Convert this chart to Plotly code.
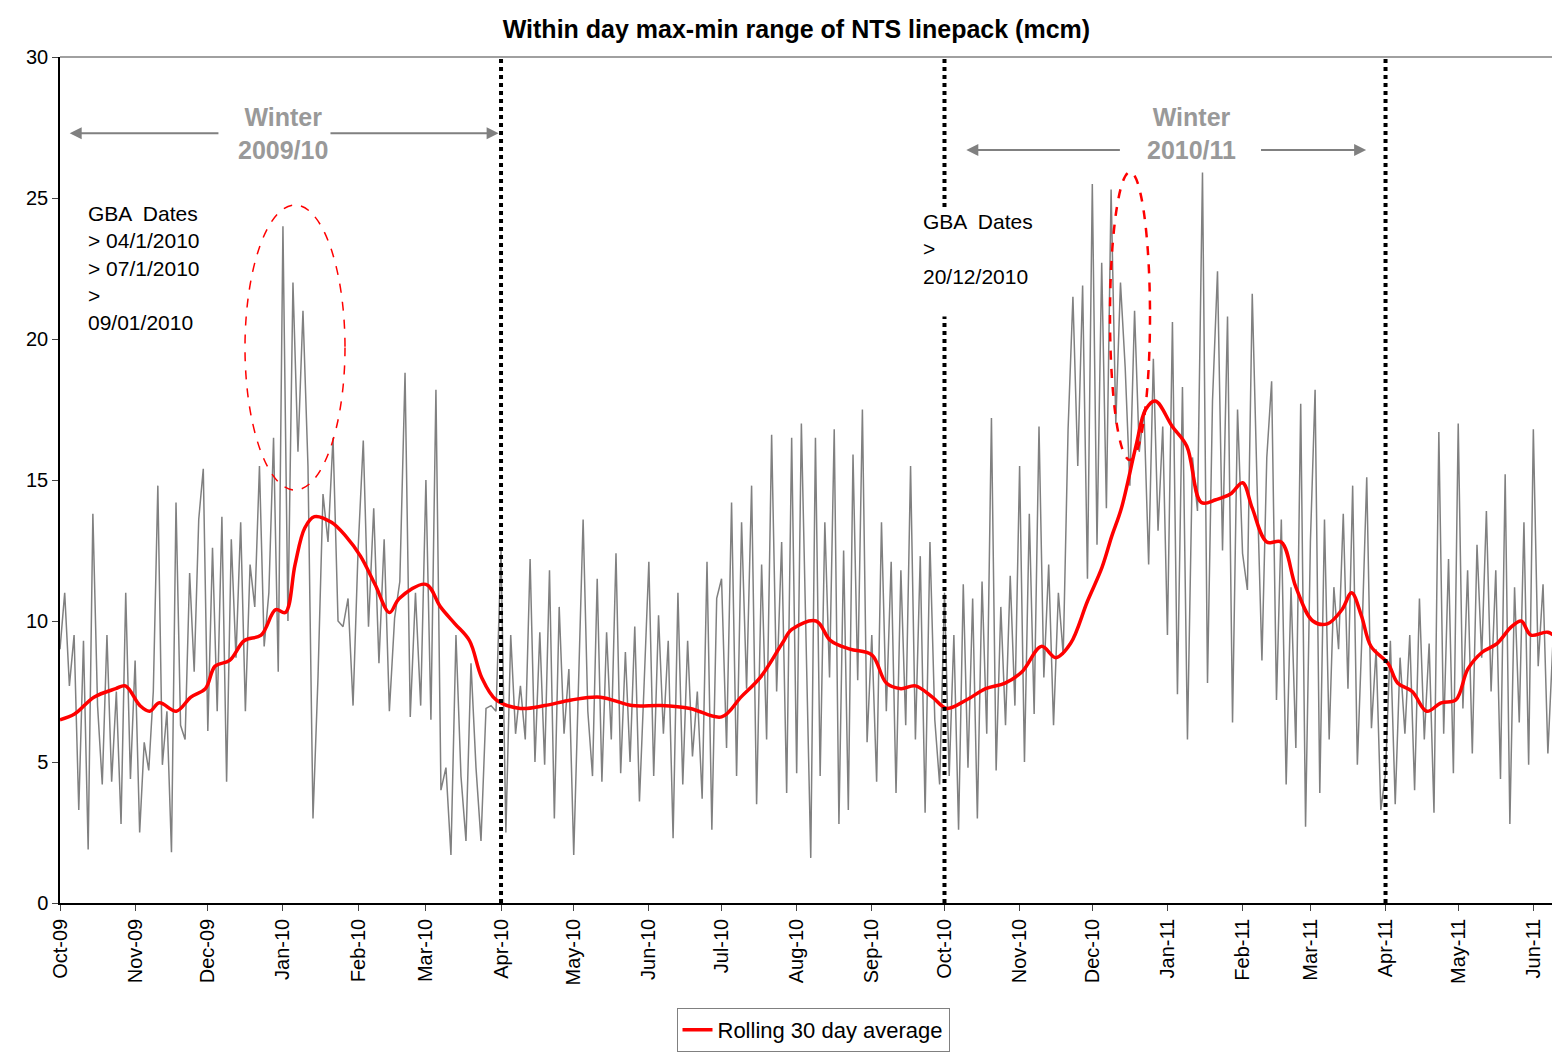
import plotly.graph_objects as go
import pandas as pd

# Daily max-min range (sampled, hand-read), grouped by month
gray_months = ["2009-10","2009-11","2009-12","2010-01","2010-02","2010-03","2010-04","2010-05","2010-06",
               "2010-07","2010-08","2010-09","2010-10","2010-11","2010-12","2011-01","2011-02","2011-03",
               "2011-04","2011-05","2011-06"]
gray_values = [
 [9,11,7.7,9.5,3.3,9.3,1.9,13.8,7,4.2,9.5,4.3,7.5,2.8,11,4.4],
 [8.6,2.5,5.7,4.7,7.5,14.8,4.9,6.8,1.8,14.2,6.3,5.8,11.7,8.2,13.6,15.4],
 [6.1,12.6,6.8,13.7,4.3,12.9,8.7,13.5,6.8,12,10.5,15.5,9.1,11,16.5,8.2],
 [24,10,22,16,21,15.5,3,8,14.5,12.8,16.5,10,9.8,10.8,7],
 [12.5,16.4,9.8,14,8.5,12.9,6.8,10.1,11.4,18.8,6.6,11,7],
 [15,6.5,18.2,4,4.8,1.7,9.5,4.5,2.2,8.5,4.8,2.2,6.9,7,6.8],
 [12.5,2.5,9.5,6,7.7,5.8,12.2,5,9.6,4.9,11.8,3,10.5,6,8.3],
 [1.7,7.8,13.6,6.8,4.5,11.5,4.3,9.6,5.8,12.4,4.6,8.9,5,9.8,3.6,7.8],
 [12.1,4.5,10.2,6,9.3,2.3,11,4.2,9.3,5.2,7.5,3.7,12.1,2.6,10.8],
 [11.5,5.5,14.2,4.5,13.5,7.6,14.8,3.5,12,5.8,16.6,7.5,12.8,3.9,16.5],
 [4.6,17,9.5,1.6,16.5,4.5,13.5,8,16.8,2.8,12.5,3.3,15.9,7.9,17.5,5.7],
 [9.5,4.3,13.5,6.8,12.1,3.9,11.8,6.3,15.5,5.8,12.3,3.2,12.8,6.5,4.2],
 [11,4.5,9.5,2.6,11.3,4.8,10.8,3,11.4,6,17.2,4.7,10.5,6.3,11.6,7],
 [15.5,5,13.8,6.7,16.9,8,12,6.3,11,8.8,16.8,21.5,15.5,21.9,11.5],
 [25.5,12.7,22.7,14,25.3,17,22,19,14.8,21,16,17.5,12,19.3,13.2,16.9],
 [9.5,20.6,7.4,18.3,5.8,15.8,13.9,25.9,7.8,17.8,22.4,12.5,20.8,6.4,17.5],
 [12.4,11.1,21.6,14.8,8.6,15.8,18.5,7.2,13.6,4.2,11.2,5.5,17.7,2.7],
 [12.8,18.2,3.9,13.6,5.8,11.2,9,13.8,7.6,14.8,4.9,9.6,15.1,6.2,9,3.3],
 [4.6,9.3,3.5,8.7,6,9.5,4,10.8,5.8,9.2,3.2,16.7,6,12.2,4.6],
 [17,6.9,11.8,5.3,12.7,8.7,13.9,7.5,11.8,4.4,15.2,2.8,11.2,6.4,13.5,4.9],
 [16.8,8.4,11.3,5.3,9.1,6.5],
]

# Rolling 30 day average: day offset from 2009-10-01 and value
avg_days = [0,6,14,23,27,33,37,41,48,54,60,64,70,76,83,89,93,97,101,105,112,118,124,130,136,140,151,157,163,169,
            174,180,190,200,211,223,236,248,260,273,281,289,298,302,312,318,326,335,341,347,353,360,366,374,382,390,
            397,405,411,417,424,430,434,438,444,448,452,459,465,471,477,483,488,492,498,504,510,517,523,529,533,537,
            541,548,552,558,564,570,576,581,587,593,599,603,607,614,620]
avg_values = [6.5,6.7,7.3,7.6,7.7,7.0,6.8,7.1,6.8,7.3,7.6,8.4,8.6,9.3,9.5,10.4,10.3,12,13.3,13.7,13.5,13,12.3,11.3,
              10.3,10.8,11.3,10.5,9.9,9.3,8,7.2,6.9,7.0,7.2,7.3,7.0,7.0,6.9,6.6,7.3,8,9.2,9.7,10.0,9.3,9.0,8.8,7.8,
              7.6,7.7,7.3,6.9,7.2,7.6,7.8,8.2,9.1,8.7,9.2,10.7,11.9,13,14,16.2,17.5,17.8,16.9,16.2,14.2,14.3,14.5,
              14.9,14,12.8,12.8,11.2,10,9.9,10.4,11,10.2,9.1,8.5,7.8,7.5,6.8,7.1,7.2,8.3,8.9,9.2,9.8,10,9.5,9.6,9.2]

winter_lines = ["2010-04-01", "2010-10-01", "2011-04-01"]

gx, gy = [], []
for m, vals in zip(gray_months, gray_values):
    start = pd.Timestamp(m + "-01")
    ndays = start.days_in_month if m != "2011-06" else 12
    for i, v in enumerate(vals):
        gx.append(start + pd.Timedelta(days=float(i * ndays / len(vals))))
        gy.append(v)

base = pd.Timestamp("2009-10-01")
ax_dates = [base + pd.Timedelta(days=d) for d in avg_days]

fig = go.Figure()
fig.add_trace(go.Scatter(x=gx, y=gy, mode="lines", line=dict(color="#808080", width=1.5), showlegend=False))
fig.add_trace(go.Scatter(x=ax_dates, y=avg_values, mode="lines", line=dict(color="#ff0000", width=3.5, shape="spline"),
                         name="Rolling 30 day average"))

for d in winter_lines:
    fig.add_shape(type="line", x0=d, x1=d, y0=0, y1=30, xref="x", yref="y",
                  line=dict(color="black", width=4, dash="dot"))
fig.add_shape(type="line", x0=0, x1=1, y0=1, y1=1, xref="paper", yref="paper", line=dict(color="#808080", width=1.5))

def px2paper(x, y):
    return (x - 60) / 1500, (903 - y) / 846

x0, y0 = px2paper(245, 490); x1, y1 = px2paper(345, 205)
fig.add_shape(type="circle", xref="paper", yref="paper", x0=x0, y0=y0, x1=x1, y1=y1,
              line=dict(color="red", width=1.5, dash="dash"))
x0, y0 = px2paper(1110, 460); x1, y1 = px2paper(1150, 172)
fig.add_shape(type="circle", xref="paper", yref="paper", x0=x0, y0=y0, x1=x1, y1=y1,
              line=dict(color="red", width=2.5, dash="dash"))

gfont = dict(family="Liberation Sans, Arial", size=25, color="#999999")
def arrow(xh, xt, y):
    fig.add_annotation(x=xh, y=y, ax=xt, ay=y, xref="x", yref="y", axref="x", ayref="y", text="",
                       showarrow=True, arrowhead=2, arrowsize=1.2, arrowwidth=2, arrowcolor="#808080")

fig.add_annotation(x="2010-01-01", y=27.3, text="<b>Winter<br>2009/10</b>", showarrow=False, font=gfont)
arrow("2009-10-05", "2009-12-06", 27.3)
arrow("2010-03-31", "2010-01-20", 27.3)
fig.add_annotation(x="2011-01-11", y=27.3, text="<b>Winter<br>2010/11</b>", showarrow=False, font=gfont)
arrow("2010-10-10", "2010-12-13", 26.7)
arrow("2011-03-24", "2011-02-08", 26.7)

tfont = dict(family="Liberation Sans, Arial", size=21, color="black")
x, y = px2paper(86, 200)
fig.add_annotation(xref="paper", yref="paper", x=x, y=y, xanchor="left", yanchor="top", align="left",
                   text="GBA  Dates<br>> 04/1/2010<br>> 07/1/2010<br>><br>09/01/2010", showarrow=False,
                   font=tfont, bgcolor="white")
x, y = px2paper(921, 208)
fig.add_annotation(xref="paper", yref="paper", x=x, y=y, xanchor="left", yanchor="top", align="left",
                   text="GBA  Dates<br>><br>20/12/2010<br> ", showarrow=False, font=tfont, bgcolor="white")

fig.update_layout(
    width=1552, height=1045, plot_bgcolor="white", paper_bgcolor="white",
    margin=dict(l=52, r=0, t=49, b=150, autoexpand=False),
    font=dict(family="Liberation Sans, Arial", size=20, color="black"),
    title=dict(text="<b>Within day max-min range of NTS linepack (mcm)</b>", x=0.508, y=0.988,
               font=dict(size=25)),
    legend=dict(orientation="h", x=0.502, y=0.043, xanchor="center", yanchor="top", yref="container",
                bordercolor="#808080", borderwidth=1, font=dict(size=22)),
    xaxis=dict(type="date", range=["2009-10-01", "2011-06-12"], dtick="M1", tick0="2009-10-01",
               tickformat="%b-%y", tickangle=-90, ticks="outside", ticklen=6, showgrid=False, automargin=False,
               showline=True, linecolor="black", linewidth=1.5, tickfont=dict(size=20)),
    yaxis=dict(range=[0, 30], dtick=5, ticks="outside", ticklen=6, showgrid=False, zeroline=False, automargin=False,
               showline=True, linecolor="black", linewidth=1.5, tickfont=dict(size=20)),
)
fig.write_html("out.html")
